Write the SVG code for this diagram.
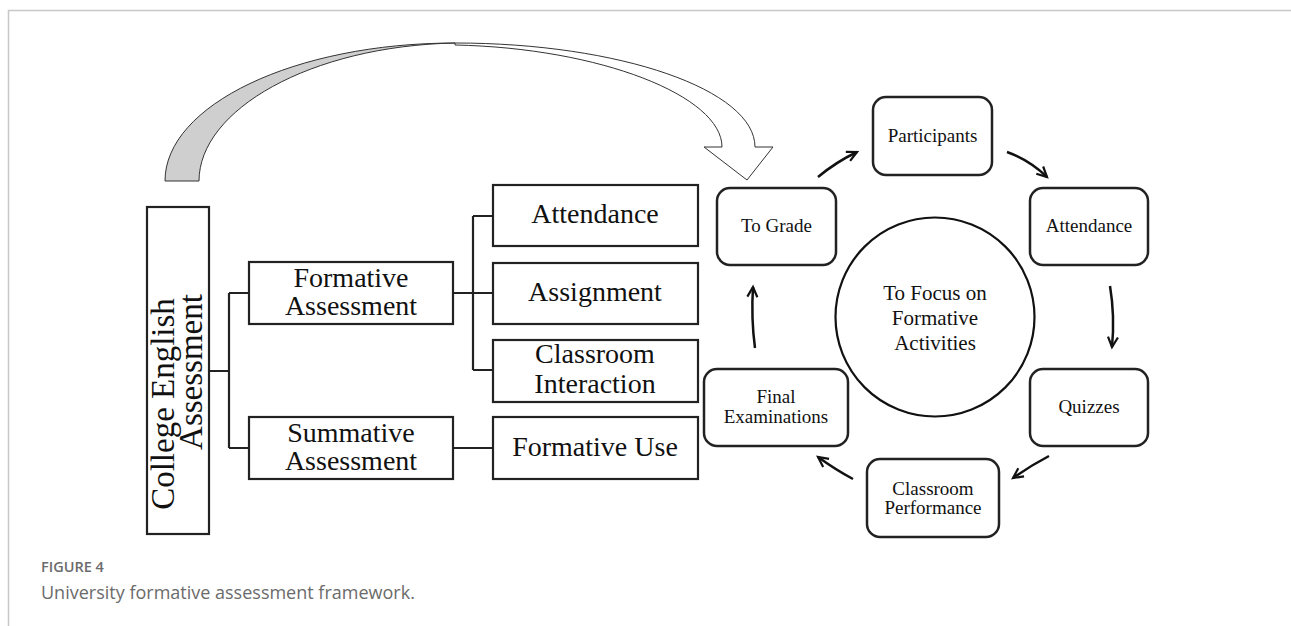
<svg xmlns="http://www.w3.org/2000/svg" width="1291" height="626" viewBox="0 0 1291 626">
<style>
.box{fill:#fff;stroke:#222;stroke-width:2.2}
.rbox{fill:#fff;stroke:#222;stroke-width:2.5}
.t{font-family:"Liberation Serif","Times New Roman",serif;fill:#111;text-anchor:middle}
.big{font-size:28px}
.sm{font-size:19px}
.con{fill:none;stroke:#222;stroke-width:2.2}
.arr{fill:none;stroke:#111;stroke-width:2.5;marker-end:url(#ah)}
.cap{font-family:"Open Sans","Liberation Sans",sans-serif;fill:#6b6b6b}
</style>
<defs>
<marker id="ah" markerUnits="userSpaceOnUse" markerWidth="14" markerHeight="14" refX="11" refY="6" orient="auto" viewBox="0 0 14 12">
<path d="M1,1 L11,6 L1,11" fill="none" stroke="#111" stroke-width="2.2"/>
</marker>
</defs>
<rect width="1291" height="626" fill="#fff"/>
<path d="M8.5,626 V10.5 H1291" fill="none" stroke="#c8c8c8" stroke-width="1.5"/>

<g id="big-arrow">
<path d="M165,181 C165,105 295,43 455,43 C310,46 199,110 199,181 Z" fill="#cfcfcf" stroke="#333" stroke-width="1"/>
<path d="M455,43 C620,43 755,90 755,147 L773,147 L747,180 L704,147 L722,147 C722,96 600,48 455,45 Z" fill="#fff" stroke="#333" stroke-width="1"/>
</g>

<g id="connectors">
<path class="con" d="M209,371 H229 M229,293 V448 M229,293 H249 M229,448 H249"/>
<path class="con" d="M453,293 H493 M473,216 V370 M473,216 H493 M473,370 H493"/>
<path class="con" d="M453,448 H493"/>
<path class="arr" d="M818,177 Q836,162 857,152"/>
<path class="arr" d="M1007,152 Q1029,160 1047,177"/>
<path class="arr" d="M1110,286 Q1115,316 1112,347"/>
<path class="arr" d="M1049,456 Q1030,466 1013,478"/>
<path class="arr" d="M853,479 Q836,470 818,457"/>
<path class="arr" d="M755,348 Q751,318 753,287"/>
</g>

<g id="college-english-assessment">
<rect class="box" x="147" y="207" width="62" height="327"/>
<text class="t" style="font-size:33px" transform="translate(174,404) rotate(-90)">College English</text>
<text class="t" style="font-size:33px" transform="translate(202,372) rotate(-90)">Assessment</text>
</g>

<g id="formative-assessment">
<rect class="box" x="249" y="262" width="204" height="62"/>
<text class="t big" x="351" y="287">Formative</text>
<text class="t big" x="351" y="315">Assessment</text>
</g>

<g id="summative-assessment">
<rect class="box" x="249" y="417" width="204" height="62"/>
<text class="t big" x="351" y="442">Summative</text>
<text class="t big" x="351" y="470">Assessment</text>
</g>

<g id="attendance-left">
<rect class="box" x="493" y="185" width="205" height="61"/>
<text class="t big" x="595" y="223">Attendance</text>
</g>

<g id="assignment">
<rect class="box" x="493" y="263" width="205" height="61"/>
<text class="t big" x="595" y="301">Assignment</text>
</g>

<g id="classroom-interaction">
<rect class="box" x="493" y="340" width="205" height="62"/>
<text class="t big" x="595" y="363">Classroom</text>
<text class="t big" x="595" y="393">Interaction</text>
</g>

<g id="formative-use">
<rect class="box" x="493" y="417" width="205" height="62"/>
<text class="t big" x="595" y="456">Formative Use</text>
</g>

<g id="to-grade">
<rect class="rbox" x="717" y="188" width="119" height="77" rx="13"/>
<text class="t sm" x="776.5" y="232">To Grade</text>
</g>

<g id="participants">
<rect class="rbox" x="873" y="97" width="119" height="78" rx="13"/>
<text class="t sm" x="932.5" y="142">Participants</text>
</g>

<g id="attendance-right">
<rect class="rbox" x="1030" y="188" width="118" height="77" rx="13"/>
<text class="t sm" x="1089" y="232">Attendance</text>
</g>

<g id="quizzes">
<rect class="rbox" x="1030" y="369" width="118" height="77" rx="13"/>
<text class="t sm" x="1089" y="413">Quizzes</text>
</g>

<g id="classroom-performance">
<rect class="rbox" x="867" y="459" width="132" height="78" rx="13"/>
<text class="t sm" x="933" y="495">Classroom</text>
<text class="t sm" x="933" y="514">Performance</text>
</g>

<g id="final-examinations">
<rect class="rbox" x="704" y="369" width="144" height="77" rx="13"/>
<text class="t sm" x="776" y="403">Final</text>
<text class="t sm" x="776" y="423">Examinations</text>
</g>

<g id="focus-circle">
<circle cx="935" cy="317" r="99.5" fill="#fff" stroke="#111" stroke-width="2.2"/>
<text class="t" style="font-size:21px" x="935" y="300">To Focus on</text>
<text class="t" style="font-size:21px" x="935" y="325">Formative</text>
<text class="t" style="font-size:21px" x="935" y="350">Activities</text>
</g>

<g id="caption">
<text class="cap" x="41" y="572" style="font-size:14.5px;font-weight:600">FIGURE 4</text>
<text class="cap" x="41" y="599" style="font-size:18px">University formative assessment framework.</text>
</g>
</svg>
